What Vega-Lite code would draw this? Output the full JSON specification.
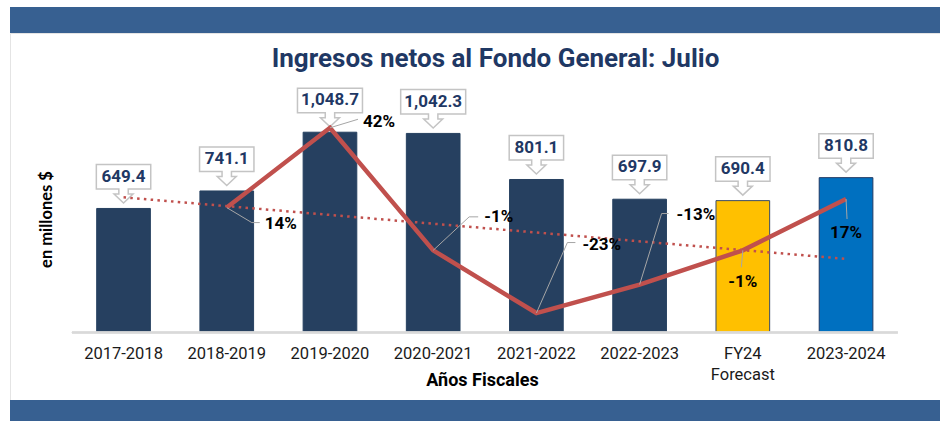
{
  "$schema": "https://vega.github.io/schema/vega-lite/v6.json",
  "background": "white",
  "padding": {"left": 9, "top": 7, "right": 0, "bottom": 0},
  "spacing": 0,
  "bounds": "flush",
  "align": "none",
  "config": {"font": "Roboto", "view": {"stroke": null}},
  "datasets": {
    "fiscal": [
      {"year": "2017-2018", "value": 649.4, "pct": null, "pctLabel": null, "trend": 0.176},
      {"year": "2018-2019", "value": 741.1, "pct": 0.14, "pctLabel": "14%"},
      {"year": "2019-2020", "value": 1048.7, "pct": 0.42, "pctLabel": "42%"},
      {"year": "2020-2021", "value": 1042.3, "pct": -0.01, "pctLabel": "-1%"},
      {"year": "2021-2022", "value": 801.1, "pct": -0.23, "pctLabel": "-23%"},
      {"year": "2022-2023", "value": 697.9, "pct": -0.13, "pctLabel": "-13%"},
      {"year": "FY24 Forecast", "value": 690.4, "pct": -0.01, "pctLabel": "-1%"},
      {"year": "2023-2024", "value": 810.8, "pct": 0.17, "pctLabel": "17%", "trend": -0.04}
    ]
  },
  "vconcat": [
    {
      "width": 931,
      "height": 26,
      "view": {"fill": "#376091", "stroke": null},
      "data": {"values": [{}]},
      "mark": {"type": "text"},
      "encoding": {"text": {"value": ""}}
    },
    {
      "width": 931,
      "height": 367,
      "view": {"fill": "white", "stroke": "#e4e4e4"},
      "title": {
        "text": "Ingresos netos al Fondo General: Julio",
        "font": "Roboto",
        "fontSize": 26,
        "fontWeight": "bold",
        "color": "#1f3864",
        "anchor": "middle",
        "dx": 20,
        "offset": -60,
        "baseline": "alphabetic"
      },
      "data": {"name": "fiscal"},
      "encoding": {
        "x": {
          "field": "year",
          "type": "nominal",
          "scale": {
            "domain": ["2017-2018", "2018-2019", "2019-2020", "2020-2021", "2021-2022", "2022-2023", "FY24 Forecast", "2023-2024"],
            "paddingInner": 0.48,
            "paddingOuter": 0.75,
            "align": 0.56
          },
          "axis": {
            "title": "Años Fiscales",
            "titleFont": "Roboto",
            "titleFontSize": 18,
            "titleFontWeight": "bold",
            "titleColor": "#000000",
            "titleX": 472,
            "titleY": 48,
            "titleBaseline": "middle",
            "offset": -67.5,
            "domain": false,
            "ticks": false,
            "grid": false,
            "labelAngle": 0,
            "labelFont": "Roboto",
            "labelFontSize": 16.5,
            "labelColor": "#1a1a1a",
            "labelPadding": 13,
            "labelLineHeight": 21,
            "labelExpr": "split(datum.label, ' ')"
          }
        }
      },
      "layer": [
        {
          "layer": [
            {
              "mark": {"type": "bar", "strokeWidth": 1},
              "encoding": {
                "y": {
                  "field": "value",
                  "type": "quantitative",
                  "scale": {"domain": [-353.4, 1568.1], "zero": false, "nice": false},
                  "axis": {
                    "title": "en millones $",
                    "labels": false,
                    "ticks": false,
                    "domain": false,
                    "grid": false,
                    "titleFont": "Lato",
                    "titleFontSize": 16.5,
                    "titleFontWeight": "bold",
                    "titleColor": "#000000",
                    "titleAngle": 270,
                    "titleX": 36,
                    "titleY": 186,
                    "titleBaseline": "middle"
                  }
                },
                "y2": {"datum": 0},
                "color": {
                  "field": "year",
                  "type": "nominal",
                  "scale": {
                    "domain": ["2017-2018", "2018-2019", "2019-2020", "2020-2021", "2021-2022", "2022-2023", "FY24 Forecast", "2023-2024"],
                    "range": ["#264060", "#264060", "#264060", "#264060", "#264060", "#264060", "#ffc000", "#0070c0"]
                  },
                  "legend": null
                },
                "stroke": {
                  "field": "year",
                  "type": "nominal",
                  "scale": {
                    "domain": ["2017-2018", "2018-2019", "2019-2020", "2020-2021", "2021-2022", "2022-2023", "FY24 Forecast", "2023-2024"],
                    "range": ["#264060", "#264060", "#264060", "#264060", "#264060", "#264060", "#3a4a62", "#1f3864"]
                  },
                  "legend": null
                }
              }
            },
            {
              "mark": {"type": "rule", "color": "#d9d9d9", "strokeWidth": 1.5, "xOffset": -51.6, "x2Offset": 51.6},
              "encoding": {
                "x": {"datum": "2017-2018"},
                "x2": {"datum": "2023-2024"},
                "y": {"datum": 0}
              }
            },
            {
              "transform": [{"filter": "datum.value < 1000"}],
              "mark": {
                "type": "point",
                "shape": "M0,-0.55 L0.95,-1.45 L0.47,-1.45 L0.47,-1.95 L2.72,-1.95 L2.72,-4.4 L-2.72,-4.4 L-2.72,-1.95 L-0.47,-1.95 L-0.47,-1.45 L-0.95,-1.45 Z",
                "size": 400,
                "filled": true,
                "fill": "white",
                "stroke": "#c4c4c4",
                "strokeWidth": 1.5,
                "opacity": 1
              },
              "encoding": {"y": {"field": "value", "type": "quantitative"}}
            },
            {
              "transform": [{"filter": "datum.value >= 1000"}],
              "mark": {
                "type": "point",
                "shape": "M0,-0.55 L0.95,-1.45 L0.47,-1.45 L0.47,-1.95 L3.25,-1.95 L3.25,-4.4 L-3.25,-4.4 L-3.25,-1.95 L-0.47,-1.95 L-0.47,-1.45 L-0.95,-1.45 Z",
                "size": 400,
                "filled": true,
                "fill": "white",
                "stroke": "#c4c4c4",
                "strokeWidth": 1.5,
                "opacity": 1
              },
              "encoding": {"y": {"field": "value", "type": "quantitative"}}
            },
            {
              "mark": {"type": "text", "font": "Roboto", "fontSize": 17, "fontWeight": "bold", "color": "#1f3864", "baseline": "middle", "dy": -31.8},
              "encoding": {
                "y": {"field": "value", "type": "quantitative"},
                "text": {"field": "value", "type": "quantitative", "format": ",.1f"}
              }
            }
          ]
        },
        {
          "layer": [
            {
              "transform": [{"filter": "datum.trend != null"}],
              "mark": {"type": "line", "color": "#c0504d", "strokeWidth": 2.5, "strokeDash": [2.5, 4.3]},
              "encoding": {
                "y": {
                  "field": "trend",
                  "type": "quantitative",
                  "scale": {"domain": [-0.5351, 0.7526], "zero": false, "nice": false},
                  "axis": null
                }
              }
            },
            {
              "transform": [{"filter": "datum.pct != null"}],
              "mark": {"type": "line", "color": "#c0504d", "strokeWidth": 4.5},
              "encoding": {"y": {"field": "pct", "type": "quantitative"}}
            },
            {
              "transform": [{"filter": "datum.pct != null"}],
              "mark": {
                "type": "rule",
                "color": "#a6a6a6",
                "strokeWidth": 1,
                "x2Offset": {"expr": "[25,28,36,31,22,-1.5,1][indexof(['2018-2019','2019-2020','2020-2021','2021-2022','2022-2023','FY24 Forecast','2023-2024'], datum.year)]"},
                "y2Offset": {"expr": "[15,-8.5,-33.5,-70.5,-71,17,20][indexof(['2018-2019','2019-2020','2020-2021','2021-2022','2022-2023','FY24 Forecast','2023-2024'], datum.year)]"}
              },
              "encoding": {
                "x2": {"field": "year"},
                "y": {"field": "pct", "type": "quantitative"},
                "y2": {"field": "pct"}
              }
            },
            {
              "transform": [{"filter": "datum.pct != null && datum.year != 'FY24 Forecast' && datum.year != '2023-2024' && datum.year != '2019-2020'"}],
              "mark": {
                "type": "rule",
                "color": "#a6a6a6",
                "strokeWidth": 1,
                "xOffset": {"expr": "[25,28,36,31,22][indexof(['2018-2019','2019-2020','2020-2021','2021-2022','2022-2023'], datum.year)]"},
                "x2Offset": {"expr": "[33,34,45,39,29][indexof(['2018-2019','2019-2020','2020-2021','2021-2022','2022-2023'], datum.year)]"},
                "yOffset": {"expr": "[15,-8.5,-33.5,-70.5,-71][indexof(['2018-2019','2019-2020','2020-2021','2021-2022','2022-2023'], datum.year)]"},
                "y2Offset": {"expr": "[15,-8.5,-33.5,-70.5,-71][indexof(['2018-2019','2019-2020','2020-2021','2021-2022','2022-2023'], datum.year)]"}
              },
              "encoding": {
                "x2": {"field": "year"},
                "y": {"field": "pct", "type": "quantitative"},
                "y2": {"field": "pct"}
              }
            },
            {
              "transform": [{"filter": "datum.pct != null && datum.year != 'FY24 Forecast' && datum.year != '2023-2024'"}],
              "mark": {
                "type": "text",
                "font": "Roboto",
                "fontSize": 17,
                "fontWeight": "bold",
                "color": "#000000",
                "align": "left",
                "baseline": "middle",
                "dx": {"expr": "[38,33,51,46,37][indexof(['2018-2019','2019-2020','2020-2021','2021-2022','2022-2023'], datum.year)]"},
                "dy": {"expr": "[16,-6,-33,-68,-70][indexof(['2018-2019','2019-2020','2020-2021','2021-2022','2022-2023'], datum.year)]"}
              },
              "encoding": {
                "y": {"field": "pct", "type": "quantitative"},
                "text": {"field": "pctLabel"}
              }
            },
            {
              "transform": [{"filter": "datum.year == 'FY24 Forecast' || datum.year == '2023-2024'"}],
              "mark": {
                "type": "text",
                "font": "Roboto",
                "fontSize": 17,
                "fontWeight": "bold",
                "color": "#000000",
                "align": "center",
                "baseline": "middle",
                "dy": {"expr": "datum.year == 'FY24 Forecast' ? 32 : 34"}
              },
              "encoding": {
                "y": {"field": "pct", "type": "quantitative"},
                "text": {"field": "pctLabel"}
              }
            }
          ]
        }
      ],
      "resolve": {"scale": {"y": "independent"}}
    },
    {
      "width": 931,
      "height": 21,
      "view": {"fill": "#376091", "stroke": null},
      "data": {"values": [{}]},
      "mark": {"type": "text"},
      "encoding": {"text": {"value": ""}}
    }
  ]
}
